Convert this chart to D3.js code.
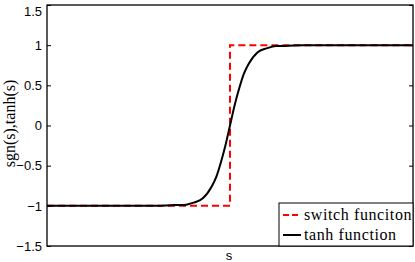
<!DOCTYPE html>
<html>
<head>
<meta charset="utf-8">
<script src="https://cdn.jsdelivr.net/npm/d3@7"></script>
<style>
  body { margin: 0; background: #fff; }
  svg { display: block; }
</style>
</head>
<body>
<div id="chart"></div>
<script>
// valores
const sSwitch = [-10, 0, 0, 10];
const ySwitch = [-1, -1, 1, 1];

const sTanh = [-10, -4, -3, -2.5, -2, -1.5, -1, -0.75, -0.5, -0.25, 0, 0.25, 0.5, 0.75, 1, 1.5, 2, 2.5, 3, 4, 10];
const yTanh = [-1, -1, -0.99, -0.99, -0.96, -0.91, -0.76, -0.64, -0.46, -0.25, 0, 0.25, 0.46, 0.64, 0.76, 0.91, 0.96, 0.99, 0.99, 1, 1];

const yTicks = [-1.5, -1, -0.5, 0, 0.5, 1, 1.5];
const legendItems = ['switch funciton', 'tanh function'];

const width = 415, height = 262;
const margin = { left: 47, right: 2, top: 5, bottom: 16 };

const svg = d3.select('#chart').append('svg')
    .attr('width', width)
    .attr('height', height);

const x = d3.scaleLinear().domain([-10, 10]).range([margin.left, width - margin.right]);
const y = d3.scaleLinear().domain([-1.5, 1.5]).range([height - margin.bottom, margin.top]);

const line = d3.line()
    .x(d => x(d[0]))
    .y(d => y(d[1]));

// linha da função switch (vermelha tracejada)
svg.append('path')
    .datum(d3.zip(sSwitch, ySwitch))
    .attr('d', line)
    .attr('fill', 'none')
    .attr('stroke', '#ff0000')
    .attr('stroke-width', 2)
    .attr('stroke-dasharray', '7,4');

// linha tanh (preta)
svg.append('path')
    .datum(d3.zip(sTanh, yTanh))
    .attr('d', line.curve(d3.curveMonotoneX))
    .attr('fill', 'none')
    .attr('stroke', '#000')
    .attr('stroke-width', 2);

// eixos
const yAxis = d3.axisLeft(y).tickValues(yTicks).tickSizeInner(-4).tickSizeOuter(0)
    .tickPadding(5).tickFormat(d3.format('~g'));
const gy = svg.append('g')
    .attr('transform', `translate(${margin.left},0)`)
    .call(yAxis);
gy.selectAll('text')
    .style('font-family', 'Liberation Sans, Arial, sans-serif')
    .style('font-size', '13px')
    .attr('fill', '#000')
    .attr('dy', d => d === 1.5 ? '0.8em' : '0.32em');
gy.selectAll('line').attr('stroke', '#000');
gy.select('.domain').remove();

const gyr = svg.append('g')
    .attr('transform', `translate(${width - margin.right},0)`)
    .call(d3.axisRight(y).tickValues(yTicks).tickSizeInner(-4).tickSizeOuter(0).tickFormat(''));
gyr.selectAll('line').attr('stroke', '#000');
gyr.select('.domain').remove();

// caixa do gráfico
svg.append('rect')
    .attr('x', x.range()[0])
    .attr('y', y.range()[1])
    .attr('width', x.range()[1] - x.range()[0])
    .attr('height', y.range()[0] - y.range()[1])
    .attr('fill', 'none')
    .attr('stroke', '#000')
    .attr('stroke-width', 1.3);

// rótulos
svg.append('text')
    .text('s')
    .attr('x', x(0) - 1)
    .attr('y', height - 2)
    .attr('text-anchor', 'middle')
    .style('font-family', 'Liberation Sans, Arial, sans-serif')
    .style('font-size', '13px');

svg.append('text')
    .text('sgn(s),tanh(s)')
    .attr('transform', `translate(15,${y(0) - 2}) rotate(-90)`)
    .attr('text-anchor', 'middle')
    .style('font-family', 'Liberation Serif, Times New Roman, serif')
    .style('font-size', '16px');

// legenda
const legend = svg.append('g');
legend.append('rect')
    .attr('x', 279)
    .attr('y', 203)
    .attr('width', x.range()[1] - 279)
    .attr('height', y.range()[0] - 203)
    .attr('fill', '#fff')
    .attr('stroke', '#000')
    .attr('stroke-width', 1);

const legendRows = legend.selectAll('.item')
    .data(legendItems)
    .enter().append('g')
    .attr('class', 'item')
    .attr('transform', (d, i) => `translate(283,${215 + i * 20})`);

legendRows.append('line')
    .attr('x1', 0).attr('x2', 18)
    .attr('y1', 0).attr('y2', 0)
    .attr('stroke', (d, i) => i === 0 ? '#ff0000' : '#000')
    .attr('stroke-width', 2)
    .attr('stroke-dasharray', (d, i) => i === 0 ? '6,3' : null);

legendRows.append('text')
    .text(d => d)
    .attr('x', 21)
    .attr('y', 5)
    .style('font-family', 'Liberation Serif, Times New Roman, serif')
    .style('font-size', '16px')
    .style('letter-spacing', '0.6px');
</script>
</body>
</html>
